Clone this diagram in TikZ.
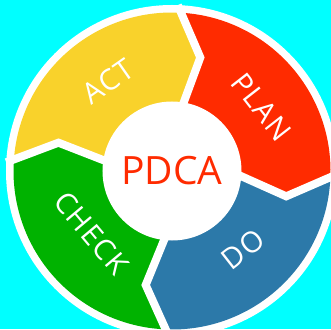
\documentclass[tikz,border=0pt]{standalone}
\usepackage{fontspec}
\setmainfont{Open Sans}
\definecolor{bgcyan}{HTML}{00FFFF}
\definecolor{actyellow}{HTML}{F9D22B}
\definecolor{planred}{HTML}{FF2B00}
\definecolor{doblue}{HTML}{2C79A9}
\definecolor{checkgreen}{HTML}{00B200}
\tikzset{
  stage/.style={text=white,font=\fontsize{29}{29}\selectfont\addfontfeature{LetterSpace=5}},
  gap/.style={draw=white,line width=8pt,line join=miter},
}
\begin{document}
\begin{tikzpicture}[x=1pt,y=1pt]
  \useasboundingbox (-172,-158) rectangle (159,171);
  \clip (-172,-158) rectangle (159,171);
  \fill[bgcyan] (-172,-158) rectangle (159,171);
  \fill[white] (0,0) circle (166);
  % boundary points: outer, tip, inner
  \coordinate (o1) at (88:158.5);  \coordinate (t1) at (76:117);    \coordinate (i1) at (82:60);
  \coordinate (o2) at (-1:158.5);  \coordinate (t2) at (-12.5:117); \coordinate (i2) at (-1:60);
  \coordinate (o3) at (-91:158.5); \coordinate (t3) at (-103:117);  \coordinate (i3) at (-94:60);
  \coordinate (o4) at (177:158.5); \coordinate (t4) at (166:117);   \coordinate (i4) at (173:60);
  % segments
  \fill[planred] (o1) arc[start angle=88,end angle=-1,radius=158.5] -- (t2) -- (i2) -- (i1) -- (t1) -- cycle;
  \fill[doblue] (o2) arc[start angle=-1,end angle=-91,radius=158.5] -- (t3) -- (i3) -- (i2) -- (t2) -- cycle;
  \fill[checkgreen] (o3) arc[start angle=-91,end angle=-183,radius=158.5] -- (t4) -- (i4) -- (i3) -- (t3) -- cycle;
  \fill[actyellow] (o4) arc[start angle=177,end angle=88,radius=158.5] -- (t1) -- (i1) -- (i4) -- (t4) -- cycle;
  % white gaps
  \begin{scope}[gap]
  \draw (88:166) -- (t1) -- (i1);
  \draw (-1:166) -- (t2) -- (i2);
  \draw (-91:166) -- (t3) -- (i3);
  \draw (177:166) -- (t4) -- (i4);
  \end{scope}
  \node[circle,fill=white,minimum size=139pt,inner sep=0pt,text=planred,font=\fontsize{39}{39}\selectfont] (pdca) at (0,0) {PDCA};
  \node[stage,rotate=35] (act) at (125.5:110) {ACT};
  \node[stage,rotate=-52] (plan) at (35.6:110) {PLAN};
  \node[stage,rotate=-50] (check) at (217.8:102) {CHECK};
  \node[stage,rotate=38] (do) at (-48:106) {DO};
\end{tikzpicture}
\end{document}
